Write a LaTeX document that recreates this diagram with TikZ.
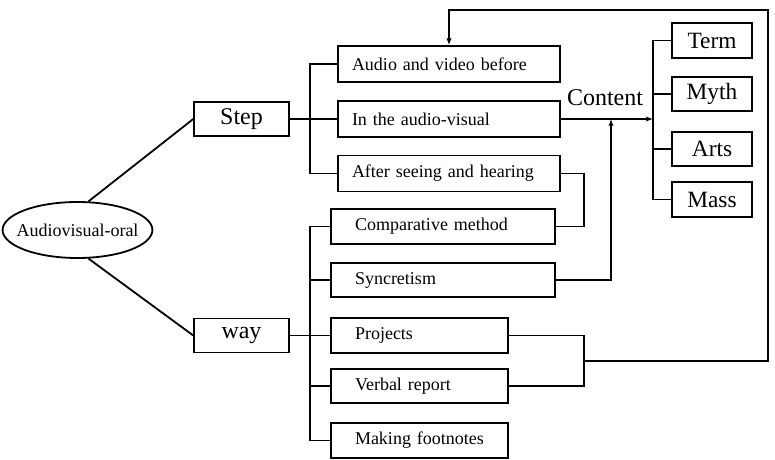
\documentclass[tikz,border=0pt]{standalone}
\usepackage{fontspec}
\setmainfont{Liberation Serif}
\usetikzlibrary{shapes.geometric, arrows.meta, positioning}

\begin{document}
\begin{tikzpicture}[x=0.75pt, y=-0.75pt, >={Latex[length=5pt,width=4pt]}, line width=1.35pt]
    \tikzstyle{root} = [draw, ellipse, minimum width=112pt, minimum height=42pt, inner xsep=-6pt, inner ysep=0pt, font=\fontsize{13.5}{15}\selectfont]
    \tikzstyle{group} = [draw, rectangle, minimum width=71pt, minimum height=26pt, inner sep=0pt, font=\fontsize{18}{20}\selectfont]
    \tikzstyle{item} = [draw, rectangle, minimum height=27pt, inner ysep=0pt, align=left, font=\fontsize{13.5}{15}\selectfont]
    \tikzstyle{topic} = [draw, rectangle, minimum width=60pt, minimum height=26pt, inner sep=0pt, font=\fontsize{17.5}{20}\selectfont]

    \useasboundingbox (0,0) rectangle (775,460);

    % Radice e rami
    \node[root] (av) at (77.5,230) {Audiovisual-oral};
    \node[group] (step) at (241.5,119) {Step};
    \node[group, minimum height=25.5pt] (way) at (241.5,335.5) {way};
    \draw (av.69) -- (step.west);
    \draw (av.-69) -- (way.west);

    % Passi
    \node[item, inner xsep=10.5pt, text width=145.5pt] (audio) at (449,64) {Audio and video before};
    \node[item, inner xsep=10.5pt, text width=145.5pt] (inav) at (449,119) {In the audio-visual};
    \node[item, inner xsep=10.5pt, text width=145.5pt] (after) at (449,173.5) {After seeing and hearing};
    \coordinate (ss) at (310,0);
    \draw (audio.west) -- (audio.west -| ss) -- (after.west -| ss) -- (after.west);
    \draw (step.east) -- (inav.west);

    % Modi
    \node[item, inner xsep=18pt, text width=132pt, minimum height=26pt] (comp) at (443,226.5) {Comparative method};
    \node[item, inner xsep=18pt, text width=132pt, minimum height=26pt] (sync) at (443,280) {Syncretism};
    \node[item, inner xsep=18pt, text width=96.75pt, minimum height=26pt] (proj) at (419.5,335.5) {Projects};
    \node[item, inner xsep=18pt, text width=96.75pt, minimum height=26pt] (verbal) at (419.5,386) {Verbal report};
    \node[item, inner xsep=18pt, text width=96.75pt, minimum height=26pt] (foot) at (419.5,440.5) {Making footnotes};
    \coordinate (ws) at (310,0);
    \draw (comp.west) -- (comp.west -| ws) -- (foot.west -| ws) -- (foot.west);
    \draw (sync.west) -- (sync.west -| ws);
    \draw (verbal.west) -- (verbal.west -| ws);
    \draw (way.east) -- (proj.west);

    % Contenuti
    \node[topic] (term) at (712,40.5) {Term};
    \node[topic] (myth) at (712,94) {Myth};
    \node[topic] (arts) at (712,149) {Arts};
    \node[topic] (mass) at (712,199.5) {Mass};
    \coordinate (ts) at (653,119);
    \node[font=\fontsize{18}{20}\selectfont] (content) at (605,98) {Content};
    \draw[->] (inav.east) -- (ts);
    \draw (term.west) -- (term.west -| ts) -- (mass.west -| ts) -- (mass.west);
    \draw (myth.west) -- (myth.west -| ts);
    \draw (arts.west) -- (arts.west -| ts);

    % Collegamenti di ritorno
    \draw (after.east) -- ++(23,0) |- (comp.east);
    \coordinate (sj) at (611,119);
    \draw[->] (sync.east) -| (sj);
    \draw (proj.east) -- ++(75,0) |- (verbal.east);
    \coordinate (pj) at (583,360.75);
    \coordinate (loop) at (768,10);
    \draw[->] (pj) -| (loop) -| (audio.north);
\end{tikzpicture}
\end{document}
